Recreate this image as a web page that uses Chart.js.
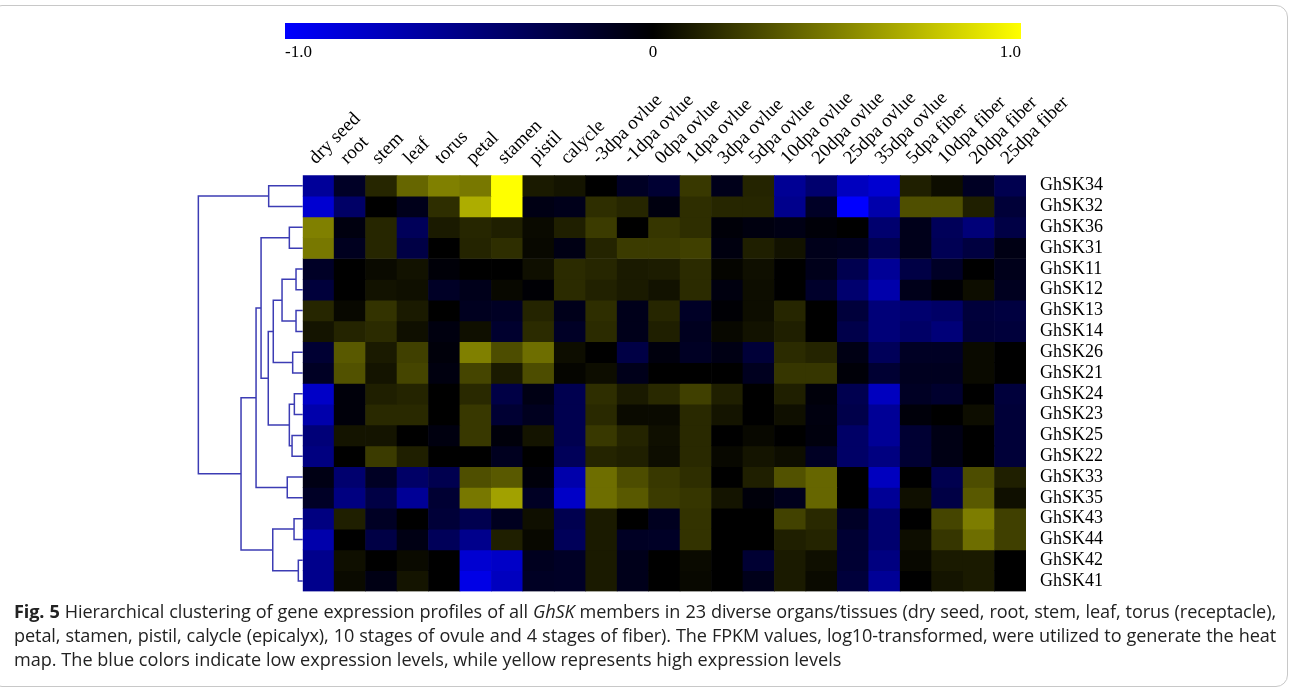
<!DOCTYPE html>
<html>
<head>
<meta charset="utf-8">
<title>GhSK heat map</title>
<script src="https://cdn.jsdelivr.net/npm/chart.js@4.4.1/dist/chart.umd.min.js"></script>
<style>
    body { margin: 0; background: #fff; }
    #wrap { position: relative; width: 1293px; height: 691px; overflow: hidden; }
    #frame { position: absolute; left: -10px; top: 5px; width: 1298px; height: 682px;
             border: 1px solid #c8c8c8; border-radius: 12px; box-sizing: border-box; }
    canvas { position: absolute; left: 0; top: 0; }
    #caption { position: absolute; left: 14px; top: 599px; width: 1262px;
               font-family: "Open Sans", sans-serif; font-size: 18.1px; line-height: 24px; color: #222; }
    #caption div { white-space: nowrap; }
    #caption .just { text-align: justify; text-align-last: justify; word-spacing: -0.6px; letter-spacing: -0.1px; }
</style>
</head>
<body>
<div id="wrap">
    <div id="frame"></div>
    <canvas id="dendroChart" width="303" height="600"></canvas>
    <canvas id="heatChart" width="1293" height="600"></canvas>
    <canvas id="scaleChart" width="1293" height="70"></canvas>
    <div id="caption">
        <div class="just"><b>Fig. 5</b> Hierarchical clustering of gene expression profiles of all <i>GhSK</i> members in 23 diverse organs/tissues (dry seed, root, stem, leaf, torus (receptacle),</div>
        <div class="just">petal, stamen, pistil, calycle (epicalyx), 10 stages of ovule and 4 stages of fiber). The FPKM values, log10-transformed, were utilized to generate the heat</div>
        <div>map. The blue colors indicate low expression levels, while yellow represents high expression levels</div>
    </div>
</div>
<script>
// Columns (tissues) and rows (genes), in the clustered order of the figure
const tissues = ['dry seed', 'root', 'stem', 'leaf', 'torus', 'petal', 'stamen', 'pistil', 'calycle',
    '-3dpa ovlue', '-1dpa ovlue', '0dpa ovlue', '1dpa ovlue', '3dpa ovlue', '5dpa ovlue', '10dpa ovlue',
    '20dpa ovlue', '25dpa ovlue', '35dpa ovlue', '5dpa fiber', '10dpa fiber', '20dpa fiber', '25dpa fiber'];
const genes = ['GhSK34', 'GhSK32', 'GhSK36', 'GhSK31', 'GhSK11', 'GhSK12', 'GhSK13', 'GhSK14', 'GhSK26', 'GhSK21',
    'GhSK24', 'GhSK23', 'GhSK25', 'GhSK22', 'GhSK33', 'GhSK35', 'GhSK43', 'GhSK44', 'GhSK42', 'GhSK41'];

// Scaled expression, one row per gene (-1 blue .. 0 black .. 1 yellow)
const GhSK34 = [-0.6, -0.15, 0.15, 0.4, 0.5, 0.47, 1.0, 0.1, 0.08, 0, -0.14, -0.2, 0.22, -0.1, 0.14, -0.58, -0.43, -0.75, -0.82, 0.12, 0.05, -0.14, -0.31];
const GhSK32 = [-0.82, -0.4, 0, -0.1, 0.18, 0.68, 1.0, -0.08, -0.1, 0.18, 0.15, -0.06, 0.18, 0.15, 0.15, -0.55, -0.15, -1.0, -0.67, 0.31, 0.31, 0.12, -0.22];
const GhSK36 = [0.5, -0.06, 0.15, -0.35, 0.1, 0.15, 0.12, 0.04, 0.12, 0.23, 0, 0.21, 0.18, -0.03, -0.06, -0.08, -0.03, 0, -0.43, -0.1, -0.35, -0.47, -0.27];
const GhSK31 = [0.47, -0.12, 0.15, -0.27, 0, 0.14, 0.18, 0.03, -0.08, 0.14, 0.23, 0.23, 0.25, -0.06, 0.12, 0.07, -0.1, -0.12, -0.31, -0.1, -0.33, -0.25, -0.08];
const GhSK11 = [-0.15, 0, 0.04, 0.07, -0.03, 0, 0, 0.06, 0.17, 0.15, 0.1, 0.11, 0.17, 0.02, 0.06, 0, -0.1, -0.31, -0.59, -0.27, -0.15, 0, -0.1];
const GhSK12 = [-0.23, 0, 0.07, 0.06, -0.15, -0.1, 0.03, -0.02, 0.17, 0.13, 0.1, 0.07, 0.17, -0.06, 0.05, 0, -0.17, -0.43, -0.67, -0.1, -0.02, 0.05, -0.12];
const GhSK13 = [0.15, 0.03, 0.2, 0.1, 0, -0.12, -0.14, 0.14, -0.1, 0.18, -0.1, 0.15, -0.15, -0.02, 0.05, 0.15, 0, -0.23, -0.47, -0.43, -0.4, -0.23, -0.25];
const GhSK14 = [0.08, 0.14, 0.17, 0.06, -0.06, 0.06, -0.18, 0.17, -0.15, 0.17, -0.1, 0.12, -0.12, 0.03, 0.07, 0.12, 0, -0.29, -0.47, -0.4, -0.47, -0.22, -0.23];
const GhSK26 = [-0.2, 0.35, 0.1, 0.25, -0.04, 0.5, 0.3, 0.43, 0.05, 0, -0.27, -0.05, -0.14, -0.08, -0.22, 0.17, 0.14, -0.08, -0.35, -0.14, -0.14, 0.04, 0];
const GhSK21 = [-0.14, 0.32, 0.08, 0.27, -0.06, 0.27, 0.1, 0.3, 0.02, 0.05, -0.1, 0, 0, 0, -0.12, 0.21, 0.21, -0.03, -0.2, -0.12, -0.12, 0.04, 0];
const GhSK24 = [-0.78, -0.04, 0.12, 0.14, 0, 0.16, -0.27, -0.08, -0.31, 0.18, 0.1, 0.16, 0.25, 0.12, 0, 0.12, -0.04, -0.31, -0.75, -0.14, -0.18, 0, -0.23];
const GhSK23 = [-0.67, -0.04, 0.16, 0.16, 0, 0.22, -0.2, -0.12, -0.31, 0.16, 0.04, 0.04, 0.16, 0.08, 0, 0.06, -0.06, -0.29, -0.59, -0.04, 0, 0.05, -0.22];
const GhSK25 = [-0.47, 0.08, 0.08, 0, -0.06, 0.22, -0.04, 0.08, -0.31, 0.22, 0.14, 0.06, 0.16, 0, 0.03, 0, -0.05, -0.4, -0.59, -0.2, -0.08, 0, -0.22];
const GhSK22 = [-0.5, 0, 0.23, 0.12, 0, 0, -0.12, 0, -0.35, 0.14, 0.12, 0.05, 0.16, 0.03, 0.08, 0.05, -0.14, -0.4, -0.5, -0.2, -0.08, 0, -0.22];
const GhSK33 = [-0.08, -0.43, -0.14, -0.4, -0.31, 0.31, 0.35, -0.04, -0.67, 0.43, 0.3, 0.22, 0.18, 0, 0.12, 0.32, 0.4, 0, -0.75, 0, -0.31, 0.3, 0.12];
const GhSK35 = [-0.15, -0.5, -0.27, -0.59, -0.2, 0.47, 0.63, -0.14, -0.78, 0.43, 0.35, 0.23, 0.21, 0.08, -0.04, -0.11, 0.4, 0, -0.59, 0.06, -0.27, 0.35, 0.06];
const GhSK43 = [-0.5, 0.12, -0.14, 0, -0.22, -0.31, -0.12, 0.06, -0.31, 0.1, 0, -0.12, 0.2, 0, 0, 0.26, 0.16, -0.15, -0.43, 0, 0.27, 0.49, 0.25];
const GhSK44 = [-0.67, 0, -0.27, -0.08, -0.35, -0.55, 0.12, 0.03, -0.35, 0.1, -0.14, -0.15, 0.2, 0, 0, 0.12, 0.14, -0.2, -0.43, 0.05, 0.21, 0.43, 0.25];
const GhSK42 = [-0.55, 0.06, 0, 0.04, 0, -0.82, -0.78, -0.12, -0.15, 0.1, -0.1, 0, 0.04, 0, -0.2, 0.1, 0.06, -0.2, -0.5, 0.03, 0.1, 0.1, 0];
const GhSK41 = [-0.55, 0.04, -0.08, 0.08, 0, -0.9, -0.75, -0.14, -0.15, 0.1, -0.1, 0, 0.03, 0, -0.1, 0.1, 0.04, -0.23, -0.59, 0, 0.08, 0.1, 0];
const expression = [GhSK34, GhSK32, GhSK36, GhSK31, GhSK11, GhSK12, GhSK13, GhSK14, GhSK26, GhSK21,
    GhSK24, GhSK23, GhSK25, GhSK22, GhSK33, GhSK35, GhSK43, GhSK44, GhSK42, GhSK41];

// Dendrogram merges: [child a, child b, distance]; leaves are row indexes 0-19, merge k gets id 20 + k
const merges = [
    [0, 1, 0.326], [2, 3, 0.128], [4, 5, 0.064], [6, 7, 0.064], [22, 23, 0.198],
    [8, 9, 0.096], [24, 25, 0.282], [10, 11, 0.080], [12, 13, 0.102], [27, 28, 0.128],
    [26, 29, 0.330], [21, 30, 0.399], [14, 15, 0.148], [31, 32, 0.447], [16, 17, 0.083],
    [18, 19, 0.042], [34, 35, 0.287], [33, 36, 0.591], [20, 37, 1.0]
];

// Colour scale
const scaleTicks = [-1, 0, 1];
const scaleLabels = ['-1.0', '0', '1.0'];

// Page layout (pixels)
const heatLeft = 302.7, heatRight = 1026, heatTop = 175.3, heatBottom = 591.5, canvasH = 600;
const serif = 'Liberation Serif';

function cellColor(v) {
    const c = Math.round(Math.min(Math.abs(v), 1) * 255);
    return v >= 0 ? `rgb(${c}, ${c}, 0)` : `rgb(0, 0, ${c})`;
}

// Heat map: one stacked bar per gene in each tissue column
const heatCtx = document.getElementById('heatChart').getContext('2d');
const heatChart = new Chart(heatCtx, {
    type: 'bar',
    data: {
        labels: tissues,
        datasets: genes.map((g, r) => ({
            label: g,
            data: tissues.map(() => 1),
            backgroundColor: expression[r].map(cellColor),
            borderWidth: 0,
            barPercentage: 1,
            categoryPercentage: 1
        }))
    },
    options: {
        responsive: false,
        animation: false,
        layout: { padding: { left: heatLeft, right: 0, top: 0, bottom: canvasH - heatBottom } },
        plugins: { legend: { display: false }, tooltip: { enabled: false } },
        scales: {
            x: {
                stacked: true,
                position: 'top',
                grid: { display: false, drawTicks: false },
                border: { display: false },
                ticks: {
                    autoSkip: false, minRotation: 45, maxRotation: 45, padding: 6, labelOffset: 10,
                    color: '#000', font: { family: serif, size: 19 }
                },
                afterFit: (scale) => { scale.height = heatTop; }
            },
            y: { stacked: true, reverse: true, min: 0, max: genes.length, display: false },
            yGenes: {
                type: 'category',
                axis: 'y',
                labels: genes,
                position: 'right',
                offset: true,
                grid: { display: false, drawTicks: false },
                border: { display: false },
                ticks: { autoSkip: false, padding: 14, color: '#000', font: { family: serif, size: 18 } },
                afterFit: (scale) => {
                    scale.width = 1293 - heatRight;
                    scale.paddingTop = 0;
                    scale.paddingBottom = 0;
                }
            }
        }
    }
});

// Dendrogram: nodes placed at the mean row of their children
const nodes = genes.map((g, i) => ({ y: i, h: 0 }));
merges.forEach(([a, b, h]) => nodes.push({ y: (nodes[a].y + nodes[b].y) / 2, h: h }));

const dendroCtx = document.getElementById('dendroChart').getContext('2d');
const dendroChart = new Chart(dendroCtx, {
    type: 'scatter',
    data: {
        datasets: merges.map(([a, b, h]) => ({
            data: [
                { x: nodes[a].h, y: nodes[a].y },
                { x: h, y: nodes[a].y },
                { x: h, y: nodes[b].y },
                { x: nodes[b].h, y: nodes[b].y }
            ],
            showLine: true,
            borderColor: '#3c3cb4',
            borderWidth: 1.5,
            pointRadius: 0,
            tension: 0,
            clip: false
        }))
    },
    options: {
        responsive: false,
        animation: false,
        layout: { padding: { left: 190, right: 303 - heatLeft, top: heatTop, bottom: canvasH - heatBottom } },
        plugins: { legend: { display: false }, tooltip: { enabled: false } },
        scales: {
            x: { type: 'linear', reverse: true, min: 0, max: 1.08, display: false },
            y: { type: 'linear', reverse: true, min: -0.5, max: genes.length - 0.5, display: false }
        }
    }
});

// Colour key bar
const scaleCtx = document.getElementById('scaleChart').getContext('2d');
const scaleChart = new Chart(scaleCtx, {
    type: 'bar',
    data: {
        labels: [''],
        datasets: [{
            data: [[scaleTicks[0], scaleTicks[scaleTicks.length - 1]]],
            backgroundColor: (context) => {
                const area = context.chart.chartArea;
                if (!area) return '#000';
                const g = context.chart.ctx.createLinearGradient(area.left, 0, area.right, 0);
                g.addColorStop(0, 'rgb(0, 0, 255)');
                g.addColorStop(0.5, 'rgb(0, 0, 0)');
                g.addColorStop(1, 'rgb(255, 255, 0)');
                return g;
            },
            borderWidth: 0,
            barPercentage: 1,
            categoryPercentage: 1
        }]
    },
    options: {
        indexAxis: 'y',
        responsive: false,
        animation: false,
        layout: { padding: { left: 285, right: 1293 - 1021, top: 23, bottom: 0 } },
        plugins: { legend: { display: false }, tooltip: { enabled: false } },
        scales: {
            x: {
                type: 'linear',
                min: scaleTicks[0],
                max: scaleTicks[scaleTicks.length - 1],
                grid: { display: false, drawTicks: false },
                border: { display: false },
                afterBuildTicks: (scale) => { scale.ticks = scaleTicks.map(v => ({ value: v })); },
                ticks: {
                    align: 'inner', padding: 3, color: '#000',
                    font: { family: serif, size: 17 },
                    callback: (v, i) => scaleLabels[i]
                },
                afterFit: (scale) => { scale.height = 31; }
            },
            y: { display: false }
        }
    }
});
</script>
</body>
</html>
